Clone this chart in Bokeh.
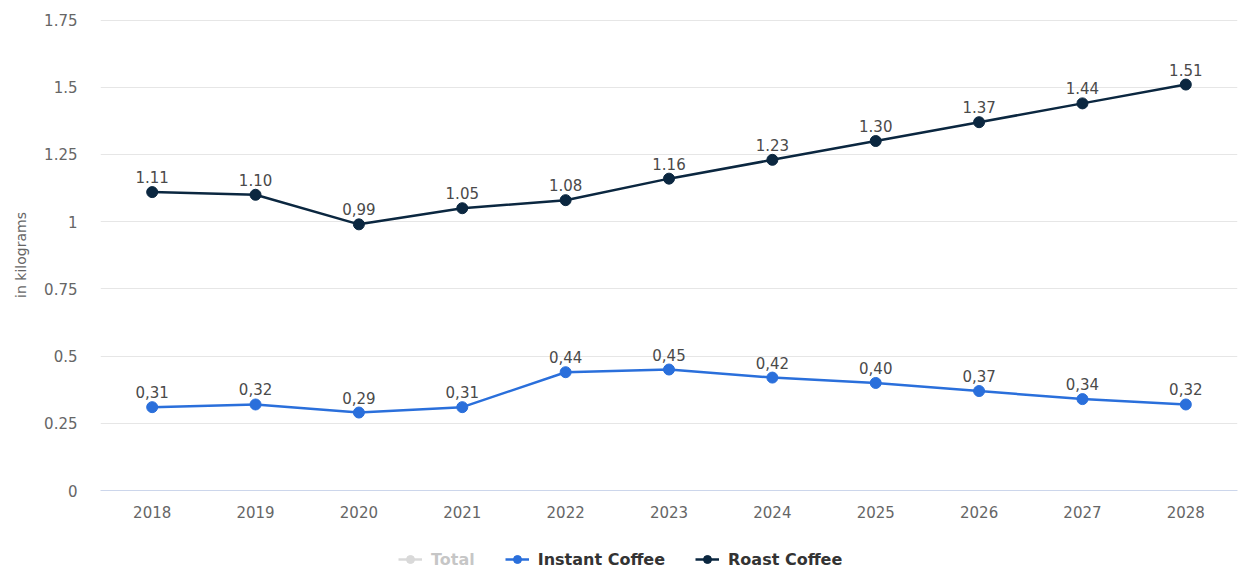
from bokeh.plotting import figure
from bokeh.layouts import column
from bokeh.models import ColumnDataSource, FixedTicker, Legend, LegendItem, Range1d
from bokeh.core.properties import value
from bokeh.embed import file_html
from bokeh.resources import INLINE

years = [2018, 2019, 2020, 2021, 2022, 2023, 2024, 2025, 2026, 2027, 2028]
roast = [1.11, 1.10, 0.99, 1.05, 1.08, 1.16, 1.23, 1.30, 1.37, 1.44, 1.51]
instant = [0.31, 0.32, 0.29, 0.31, 0.44, 0.45, 0.42, 0.40, 0.37, 0.34, 0.32]
roast_labels = ["1.11", "1.10", "0,99", "1.05", "1.08", "1.16", "1.23", "1.30", "1.37", "1.44", "1.51"]
instant_labels = ["0,31", "0,32", "0,29", "0,31", "0,44", "0,45", "0,42", "0,40", "0,37", "0,34", "0,32"]
y_ticks = [0, 0.25, 0.5, 0.75, 1, 1.25, 1.5, 1.75]
y_tick_labels = ["0", "0.25", "0.5", "0.75", "1", "1.25", "1.5", "1.75"]
series_names = ["Total", "Instant Coffee", "Roast Coffee"]

ROAST_C = "#0b2740"
INST_C = "#2a6fdb"
TOTAL_C = "#777777"
FONT = "DejaVu Sans"

p = figure(width=1245, height=536, output_backend="svg", toolbar_location=None,
           x_range=Range1d(2017.5, 2028.5), y_range=Range1d(0, 1.752),
           min_border_left=100, min_border_right=8, min_border_top=19, min_border_bottom=46,
           outline_line_color=None)

src_r = ColumnDataSource(dict(x=years, y=roast, t=roast_labels))
src_i = ColumnDataSource(dict(x=years, y=instant, t=instant_labels))

p.line("x", "y", source=src_i, line_color=INST_C, line_width=2.5)
p.scatter("x", "y", source=src_i, size=11, fill_color=INST_C, line_color=INST_C)
p.line("x", "y", source=src_r, line_color=ROAST_C, line_width=2.5)
p.scatter("x", "y", source=src_r, size=11, fill_color=ROAST_C, line_color=ROAST_C)

for src in (src_i, src_r):
    p.text("x", "y", text="t", source=src, text_align="center", text_baseline="bottom",
           y_offset=-9, text_font=value(FONT), text_font_size="15px", text_color="#4a4a4a")

p.xaxis.ticker = FixedTicker(ticks=years)
p.yaxis.ticker = FixedTicker(ticks=y_ticks)
p.yaxis.major_label_overrides = {t: l for t, l in zip(y_ticks, y_tick_labels)}
for ax in (p.xaxis[0], p.yaxis[0]):
    ax.major_tick_line_color = None
    ax.minor_tick_line_color = None
    ax.major_label_text_font = FONT
    ax.major_label_text_font_size = "15px"
    ax.major_label_text_color = "#666666"
p.xaxis.axis_line_color = "#ccd6eb"
p.xaxis.major_label_standoff = 9
p.yaxis.axis_line_color = None
p.yaxis.major_label_standoff = 17
p.yaxis.axis_label = "in kilograms"
p.yaxis.axis_label_text_font = FONT
p.yaxis.axis_label_text_font_size = "14px"
p.yaxis.axis_label_text_font_style = "normal"
p.yaxis.axis_label_text_color = "#666666"
p.yaxis.axis_label_standoff = 12

p.xgrid.grid_line_color = None
p.ygrid.grid_line_color = "#e6e6e6"
p.ygrid.ticker = FixedTicker(ticks=y_ticks[1:])

# legend strip (its renderers fall outside its own ranges; only the legend shows)
lg = figure(width=1245, height=33, output_backend="svg", toolbar_location=None,
            x_range=Range1d(0, 1), y_range=Range1d(100, 101),
            x_axis_type=None, y_axis_type=None, min_border=0, outline_line_color=None)
lg.xgrid.visible = False
lg.ygrid.visible = False

lt = lg.line("x", "y", source=src_r, line_color=TOTAL_C, line_width=2.5)
st = lg.scatter("x", "y", source=src_r, size=10, fill_color=TOTAL_C, line_color=TOTAL_C)
for r in (lt, st):
    r.muted_glyph = r.glyph.clone()
    r.muted = True
li = lg.line("x", "y", source=src_i, line_color=INST_C, line_width=2.5)
si = lg.scatter("x", "y", source=src_i, size=10, fill_color=INST_C, line_color=INST_C)
lr = lg.line("x", "y", source=src_r, line_color=ROAST_C, line_width=2.5)
sr = lg.scatter("x", "y", source=src_r, size=10, fill_color=ROAST_C, line_color=ROAST_C)

legend = Legend(items=[
    LegendItem(label=series_names[0], renderers=[lt, st]),
    LegendItem(label=series_names[1], renderers=[li, si]),
    LegendItem(label=series_names[2], renderers=[lr, sr]),
], orientation="horizontal", location=(298, 0), click_policy="mute",
    label_text_font=FONT, label_text_font_size="16px", label_text_font_style="bold",
    label_text_color="#333333", border_line_color=None, background_fill_alpha=0,
    glyph_width=24, glyph_height=20, label_height=20, spacing=30, label_standoff=9,
    padding=2, margin=0, inactive_fill_color="white", inactive_fill_alpha=0.72)
lg.add_layout(legend, "center")

layout = column(p, lg, spacing=0)
open("out.html", "w").write(file_html(layout, INLINE))
